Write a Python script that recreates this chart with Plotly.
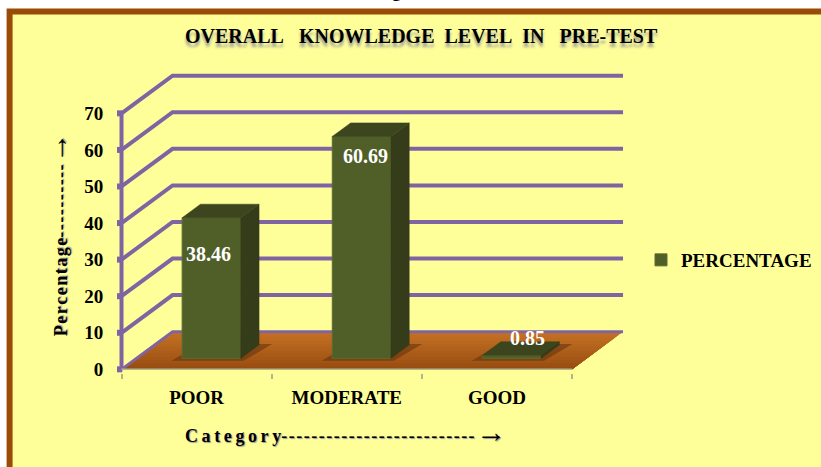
import plotly.graph_objects as go

# Data
categories = ["POOR", "MODERATE", "GOOD"]
percentages = [38.46, 60.69, 0.85]
y_ticks = [0, 10, 20, 30, 40, 50, 60, 70]
series_name = "PERCENTAGE"
title_text = "OVERALL\u00a0\u00a0\u00a0KNOWLEDGE\u00a0\u00a0LEVEL\u00a0\u00a0IN\u00a0\u00a0\u00a0PRE-TEST"
ARROW = '<span style="font-size:30px;font-weight:normal">\u2192</span>'
y_title = "\u200a".join("Percentage") + "-\u200a" * 10 + ARROW
x_title = "\u2009".join("Category") + "-\u200a" * 26 + ARROW

# Oblique projection of the fake 3-D box
W, H = 821, 467
L, R, T, B = 113.5, 193, 72.35, 94.35
DX, DY = 0.34, 10.3          # shift of the full depth, in axis units
D0, D1 = 0.29, 0.65          # bar depth span
BAR_W = 0.39
FONT = "Liberation Serif"
PURPLE = "#8064A2"


def px(x):
    return (x - L) / (W - L - R)


def py(y):
    return (H - B - y) / (H - T - B)


def proj(x, y, d):
    return x + d * DX, y + d * DY


shapes = []
# page frame
shapes.append(dict(type="rect", xref="paper", yref="paper", x0=px(9), x1=px(W + 20),
                   y0=py(12), y1=py(H + 20), fillcolor="#FFFF99",
                   line=dict(color="#9A4B08", width=6), layer="below"))

# floor, painted from the back (lighter) to the front (darker); each band overlaps the next
bands = 12
c0, c1 = (196, 112, 34), (152, 78, 18)
for i in range(bands):
    d_hi, d_lo = 1 - i / bands, 0
    t = i / (bands - 1)
    col = tuple(round(a + (b - a) * t) for a, b in zip(c0, c1))
    pts = [proj(0, 0, d_lo), proj(3, 0, d_lo), proj(3, 0, d_hi), proj(0, 0, d_hi)]
    path = "M" + " L".join(f"{x},{y}" for x, y in pts) + " Z"
    shapes.append(dict(type="path", path=path, fillcolor=f"rgb{col}",
                       line=dict(width=0), layer="below"))

# bar shadows on the floor
for i in range(len(categories)):
    xl, xr = i + 0.5 - BAR_W / 2 - 0.05, i + 0.5 + BAR_W / 2 + 0.08
    pts = [proj(xl, 0, D0 - 0.06), proj(xr - 0.04, 0, D0 - 0.06), proj(xr, 0, D1 + 0.02), proj(xl + 0.04, 0, D1 + 0.02)]
    path = "M" + " L".join(f"{x},{y}" for x, y in pts) + " Z"
    shapes.append(dict(type="path", path=path, fillcolor="rgba(95,50,15,0.55)",
                       line=dict(width=0), layer="below"))

# grid lines on the side wall and the back wall
for v in y_ticks:
    a, b, c = proj(0, v, 0), proj(0, v, 1), proj(3, v, 1)
    path = f"M{a[0]},{a[1]} L{b[0]},{b[1]} L{c[0]},{c[1]}"
    shapes.append(dict(type="path", path=path, line=dict(color=PURPLE, width=4 if v else 3), layer="below"))
    # tick stub
    shapes.append(dict(type="line", x0=-0.03, x1=0.005, y0=v, y1=v, line=dict(color=PURPLE, width=6), layer="below"))
# vertical axis line
shapes.append(dict(type="line", x0=0, x1=0, y0=0, y1=y_ticks[-1], line=dict(color=PURPLE, width=4), layer="below"))
# category axis line
shapes.append(dict(type="line", x0=0, x1=3, y0=0, y1=0, line=dict(color="#B5B58A", width=1.5), layer="below"))

fig = go.Figure()

# front faces
fig.add_bar(
    x=[proj(i + 0.5, 0, D0)[0] for i in range(len(categories))],
    y=percentages,
    base=proj(0, 0, D0)[1],
    width=BAR_W,
    name=series_name,
    marker=dict(color="#505F28", line=dict(color="#5C6C30", width=1)),
    hoverinfo="skip",
    showlegend=True,
)

# side and top faces
for i, v in enumerate(percentages):
    xl, xr = i + 0.5 - BAR_W / 2, i + 0.5 + BAR_W / 2
    side = [proj(xr, 0, D0), proj(xr, 0, D1), proj(xr, v, D1), proj(xr, v, D0)]
    top = [proj(xl, v, D0), proj(xr, v, D0), proj(xr, v, D1), proj(xl, v, D1)]
    for pts, col in ((side, "#343C19"), (top, "#3C451E")):
        fig.add_scatter(x=[p[0] for p in pts] + [pts[0][0]], y=[p[1] for p in pts] + [pts[0][1]],
                        mode="lines", fill="toself", fillcolor=col, line=dict(color=col, width=0.5),
                        hoverinfo="skip", showlegend=False)

# value labels
label_font = dict(family=FONT, size=20, color="white", weight="bold")
label_drops = [36, 20, -17]   # pixels below the top front edge
annotations = []
for i, v in enumerate(percentages):
    x, y = proj(i + 0.5, v, D0)
    annotations.append(dict(x=x, y=y, text=f"{v:.2f}", showarrow=False, font=label_font,
                            yshift=-label_drops[i], xshift=(-3, 4, 16)[i],
                            xanchor="center", yanchor="middle"))

axis_font = dict(family=FONT, size=19, color="#000000", weight="bold")
shadow_font = dict(family=FONT, size=18, color="#000000", weight="bold", shadow="1px 1px 1px #999")
annotations.append(dict(xref="paper", yref="paper", x=px(183), y=py(431), text=x_title, showarrow=False,
                        font=shadow_font, xanchor="left", yanchor="middle"))
annotations.append(dict(xref="paper", yref="paper", x=px(56), y=py(338), text=y_title, showarrow=False, textangle=-90,
                        font=shadow_font, xanchor="center", yanchor="bottom"))
annotations.append(dict(xref="paper", yref="paper", x=px(421), y=py(36), text=title_text, showarrow=False,
                        font=dict(family=FONT, size=20, color="#000000", weight="bold", shadow="0px 4px 3px #999"),
                        xanchor="center", yanchor="middle"))
annotations.append(dict(xref="paper", yref="paper", x=px(396), y=py(4), text="g", showarrow=False,
                        font=dict(family=FONT, size=18, color="#000000", weight="bold"),
                        xanchor="center", yanchor="bottom"))

fig.update_layout(
    width=W, height=H, autosize=False,
    margin=dict(l=L, r=R, t=T, b=B, pad=0),
    paper_bgcolor="white", plot_bgcolor="rgba(0,0,0,0)",
    barmode="overlay",
    shapes=shapes, annotations=annotations,
    legend=dict(xref="container", yref="container", x=641 / W, y=1 - 260 / H,
                xanchor="left", yanchor="middle", bgcolor="rgba(0,0,0,0)",
                font=dict(family=FONT, size=19, color="#000000", weight="bold"), itemwidth=30),
    xaxis=dict(range=[-0.05, 3.373], tickmode="array",
               tickvals=[0.5, 1.5, 2.5], ticktext=categories,
               ticks="outside", ticklen=7, tickcolor="rgba(0,0,0,0)", tickfont=axis_font,
               showgrid=False, zeroline=False, showline=False,
               minor=dict(tickmode="array", tickvals=[0, 1, 2, 3], ticks="outside", ticklen=5,
                          tickcolor="#B5B58A", tickwidth=1.5, showgrid=False)),
    yaxis=dict(range=[-1, 81.3], tickmode="array", tickvals=y_ticks,
               ticks="outside", ticklen=6, tickcolor="rgba(0,0,0,0)", tickfont=axis_font,
               showgrid=False, zeroline=False, showline=False),
)

fig.write_html("out.html", config=dict(displayModeBar=False),
               post_script="document.body.style.margin='0';document.body.style.overflow='hidden';")
